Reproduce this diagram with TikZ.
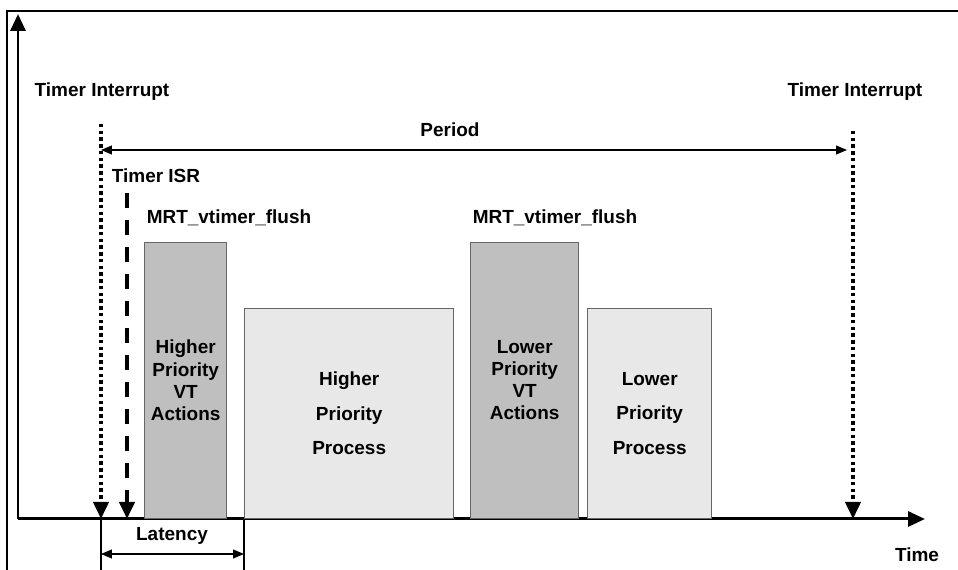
\documentclass[tikz,border=0pt]{standalone}
\usepackage{fontspec}
\setmainfont{Liberation Sans}
\usetikzlibrary{positioning, arrows.meta}

\begin{document}
\begin{tikzpicture}[x=0.02cm, y=-0.02cm,
                  every node/.style={font=\bfseries\fontsize{10.8}{12.6}\selectfont, inner sep=1pt},
                  axis/.style={-{Triangle[width=0.3cm,length=0.34cm]},line width=0.06cm},
                  irq/.style={-{Triangle[width=0.3cm,length=0.34cm]},line width=0.075cm,
                    dash pattern=on 0.07cm off 0.065cm},
                  isr/.style={-{Triangle[width=0.3cm,length=0.34cm]},line width=0.08cm,
                    dash pattern=on 0.3cm off 0.24cm},
                  span/.style={{Triangle[width=0.18cm,length=0.22cm]}-{Triangle[width=0.18cm,length=0.22cm]},
                    line width=0.6pt},
                  vtbox/.style={rectangle,draw=black!60,fill=black!25,line width=0.8pt,inner sep=0pt,
                    align=center,anchor=south west,minimum height=5.52cm},
                  procbox/.style={rectangle,draw=black!60,fill=black!9,line width=0.8pt,inner sep=0pt,
                    align=center,anchor=south west,minimum height=4.2cm,
                    font=\bfseries\fontsize{10.8}{19.5}\selectfont}
                  ]
                  \useasboundingbox (0,0) rectangle (958,570);
                  % frame and axes
                  \draw[line width=0.05cm] (7,570) -- (7,11) -- (958,11);
                  \coordinate (O) at (18,519);
                  \coordinate (Ytop) at (18,14);
                  \coordinate (Xend) at (925,519);
                  \draw[axis] (O) -- (Ytop);
                  \draw[axis] (O) -- (Xend);
                  \node (time) at (917,555) {Time};
                  % boxes
                  \node[vtbox,minimum width=1.64cm] (hpa) at (144,519) {Higher\\Priority\\VT\\Actions};
                  \node[procbox,minimum width=4.18cm] (hpp) at (244,519) {Higher\\Priority\\Process};
                  \node[vtbox,minimum width=2.16cm] (lpa) at (470,519) {Lower\\Priority\\VT\\Actions};
                  \node[procbox,minimum width=2.48cm] (lpp) at (587,519) {Lower\\Priority\\Process};
                  \node (flush1) at (229,218) {MRT\_vtimer\_flush};
                  \node (flush2) at (555,218) {MRT\_vtimer\_flush};
                  % interrupts
                  \node (irqL) at (102,92) {Timer Interrupt};
                  \node (irqR) at (855,92) {Timer Interrupt};
                  \coordinate (irq1) at (101,124);
                  \coordinate (irq1end) at (101,519);
                  \coordinate (irq2) at (853,131);
                  \coordinate (irq2end) at (853,519);
                  \draw[irq] (irq1) -- (irq1end);
                  \draw[irq] (irq2) -- (irq2end);
                  \node (isr) at (156,176) {Timer ISR};
                  \coordinate (isr1) at (127,193);
                  \coordinate (isr1end) at (127,519);
                  \draw[isr] (isr1) -- (isr1end);
                  % period
                  \node (period) at (450,130) {Period};
                  \coordinate (per1) at (101,150);
                  \coordinate (per2) at (847,150);
                  \draw[span] (per1) -- (per2);
                  % latency
                  \coordinate (lat1) at (101,570);
                  \coordinate (lat2) at (244,570);
                  \draw[line width=0.6pt] (irq1end) -- (lat1);
                  \draw[line width=0.6pt] (hpp.south west) -- (lat2);
                  \coordinate (latA) at (101,554);
                  \coordinate (latB) at (244,554);
                  \draw[span] (latA) -- (latB);
                  \node (latency) at (172,536) {Latency};
                \end{tikzpicture}
\end{document}
